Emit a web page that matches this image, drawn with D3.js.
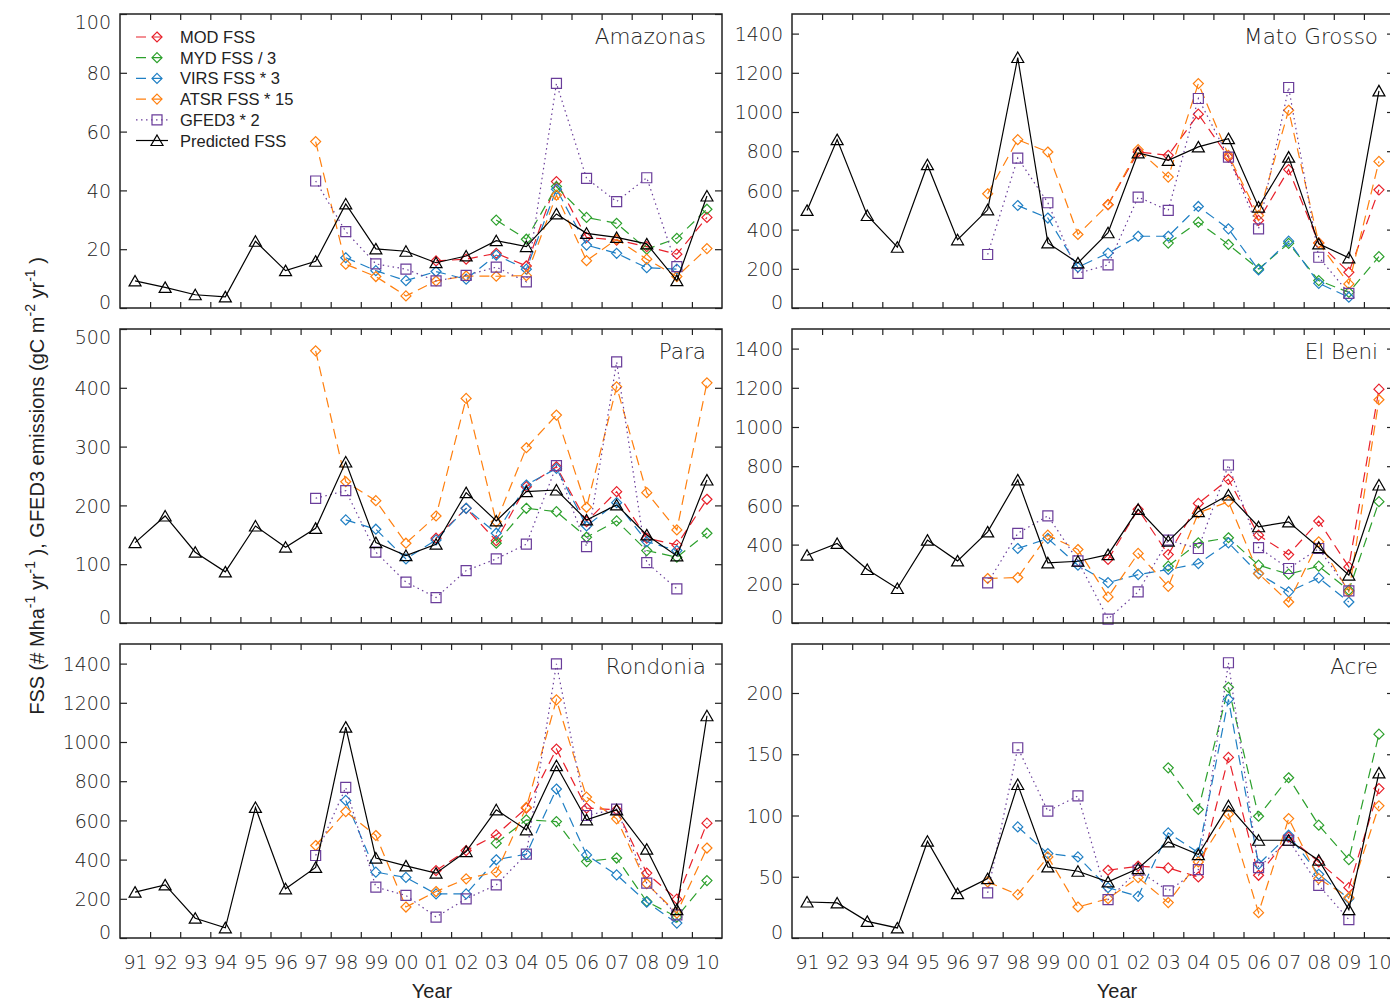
<!DOCTYPE html>
<html>
<head>
<meta charset="utf-8">
<script src="https://cdn.jsdelivr.net/npm/d3@7"></script>
<style>
  body { margin: 0; background: #fff; }
</style>
</head>
<body>
<div id="chart"></div>
<script>
// FSS vs GFED3 per state, 1991-2010
const years = [1991,1992,1993,1994,1995,1996,1997,1998,1999,2000,2001,2002,2003,2004,2005,2006,2007,2008,2009,2010];
const yearLabels = ['91','92','93','94','95','96','97','98','99','00','01','02','03','04','05','06','07','08','09','10'];
const _ = null;

const amazonasPred = [9.2,7.0,4.5,3.8,22.7,12.7,15.9,35.4,20.1,19.3,15.4,17.7,22.9,20.9,32.0,25.4,24.0,21.8,9.3,38.1];
const amazonasMOD  = [_,_,_,_,_,_,_,_,_,_,16.0,16.6,18.6,14.3,43.0,24.0,23.1,20.9,18.3,30.8];
const amazonasMYD  = [_,_,_,_,_,_,_,_,_,_,_,_,29.9,23.4,41.3,30.8,28.8,20.0,23.7,33.6];
const amazonasVIRS = [_,_,_,_,_,_,_,17.1,12.7,9.3,12.4,9.8,18.0,13.2,40.4,21.4,18.6,13.7,13.2,_];
const amazonasATSR = [_,_,_,_,_,_,56.6,14.9,10.7,4.1,9.2,10.9,10.8,11.0,38.4,16.1,23.4,16.6,10.7,20.2];
const amazonasGFED = [_,_,_,_,_,_,43.2,26.0,15.0,13.2,9.2,11.1,13.9,8.9,76.4,44.1,36.2,44.3,14.1,_];

const paraPred = [136.7,182,120.4,87,165,128.9,161,273.8,136.7,114.7,134,221.7,173.6,223.4,226.2,175.3,200.8,149.8,114.1,243.2];
const paraMOD  = [_,_,_,_,_,_,_,_,_,_,144.2,195,140,231.9,265.8,172.4,223.4,144.2,132.8,210.4];
const paraMYD  = [_,_,_,_,_,_,_,_,_,_,_,_,135.7,195.1,189.4,145.9,173.6,123.2,111.9,152.7];
const paraVIRS = [_,_,_,_,_,_,_,175.3,159.5,109,141.3,195.1,152.7,234.7,263,165,204.7,138.4,123.2,_];
const paraATSR = [_,_,_,_,_,_,462.8,240.3,208,135.7,182,382,172,298,353.6,196.8,401.7,221.7,158.3,408.5];
const paraGFED = [_,_,_,_,_,_,212.1,225,120.4,69.5,43.3,89.2,109,134,267.5,130,444.1,102.8,58.1,_];

const rondoniaPred = [234,271,101,52,666,251,360,1076,408,368,331,441,654,552,879,603,654,453,145,1134];
const rondoniaMOD  = [_,_,_,_,_,_,_,_,_,_,344,446,526,663,964,663,654,331,198,586];
const rondoniaMYD  = [_,_,_,_,_,_,_,_,_,_,_,_,484,603,594,390,408,186,107,293];
const rondoniaVIRS = [_,_,_,_,_,_,_,702,336,309,225,225,399,428,760,424,322,183,76,_];
const rondoniaATSR = [_,_,_,_,_,_,472,645,523,158,237,302,336,666,1215,719,608,277,127,459];
const rondoniaGFED = [_,_,_,_,_,_,421,768,260,217,107,200,271,428,1399,625,658,280,118,_];

const matoPred = [498,859,472,310,731,348,501,1278,332,230,384,791,753,822,864,515,770,327,256,1108];
const matoMOD  = [_,_,_,_,_,_,_,_,_,_,527,796,779,989,770,447,706,332,182,603];
const matoMYD  = [_,_,_,_,_,_,_,_,_,_,_,_,331,438,324,199,330,140,80,262];
const matoVIRS = [_,_,_,_,_,_,_,523,459,208,280,366,366,518,404,194,341,126,55,_];
const matoATSR = [_,_,_,_,_,_,583,859,796,375,527,808,668,1145,779,472,1009,332,123,748];
const matoGFED = [_,_,_,_,_,_,273,765,537,177,220,566,498,1069,770,404,1125,259,75,_];

const beniPred = [346,406,273,176,423,317,465,730,307,315,349,580,418,568,653,491,516,385,244,704];
const beniMOD  = [_,_,_,_,_,_,_,_,_,_,324,580,349,610,733,448,349,520,286,1193];
const beniMYD  = [_,_,_,_,_,_,_,_,_,_,_,_,290,409,435,295,249,290,167,619];
const beniVIRS = [_,_,_,_,_,_,_,380,431,295,206,247,273,303,409,252,159,230,107,_];
const beniATSR = [_,_,_,_,_,_,227,232,448,375,133,355,187,562,619,252,107,414,159,1139];
const beniGFED = [_,_,_,_,_,_,205,457,547,317,20,159,423,380,806,385,278,380,164,_];

const acrePred = [29.4,28.6,13.6,8.2,79,36.2,48.5,125.3,58,54.5,45.8,56.7,78.5,68.1,107.9,79.8,79.8,63.5,23.2,134.8];
const acreMOD  = [_,_,_,_,_,_,_,_,_,_,55.3,58.6,57.2,49.8,147.4,51.2,82.5,62.1,41.1,122];
const acreMYD  = [_,_,_,_,_,_,_,_,_,_,_,_,138.9,104.9,204.6,99.4,130.8,92.1,64,166.4];
const acreVIRS = [_,_,_,_,_,_,_,90.7,68.9,66.2,41.1,34,85.8,69.7,194.8,60.2,83.9,52,32.1,_];
const acreATSR = [_,_,_,_,_,_,45.8,35.4,66.2,25.3,32.1,49.3,28.9,62.1,101.1,20.7,97.5,48.5,33,107.9];
const acreGFED = [_,_,_,_,_,_,36.8,155.3,103.5,116,31.3,55.3,38.4,55.8,224.7,57.5,79.8,43,15,_];

const ticks100  = [0,20,40,60,80,100];
const ticks500  = [0,100,200,300,400,500];
const ticks1400 = [0,200,400,600,800,1000,1200,1400];
const ticks200  = [0,50,100,150,200];

const legendLabels = ['MOD FSS', 'MYD FSS / 3', 'VIRS FSS * 3', 'ATSR FSS * 15', 'GFED3 * 2', 'Predicted FSS'];

(function() {
  const width = 1390, height = 1001;
  const colX = [120, 792], panelW = 602;
  const rowY = [14, 329, 644], panelH = 294;
  const tickFont = "'DejaVu Sans', sans-serif";
  const labelFont = "'Liberation Sans', Arial, sans-serif";
  const ink = '#222';

  const seriesDefs = [
    {key: 'mod',  color: '#e8202a', dash: '10,6',    marker: 'diamond'},
    {key: 'myd',  color: '#2ca02c', dash: '10,6',    marker: 'diamond'},
    {key: 'virs', color: '#1f7fc4', dash: '10,6',    marker: 'diamond'},
    {key: 'atsr', color: '#ff7f0e', dash: '10,6',    marker: 'diamond'},
    {key: 'gfed', color: '#6a3d9a', dash: '1.5,3.5', marker: 'square'},
    {key: 'pred', color: '#000000', dash: null,      marker: 'triangle'}
  ];

  const markerPath = {
    diamond:  'M0,-5L5,0L0,5L-5,0Z',
    square:   'M-5,-5L5,-5L5,5L-5,5Z',
    triangle: 'M0,-5.5L6,5L-6,5Z'
  };

  const panels = [
    {name: 'Amazonas',    col: 0, row: 0, yMax: 100,  ticks: ticks100,
     data: {mod: amazonasMOD, myd: amazonasMYD, virs: amazonasVIRS, atsr: amazonasATSR, gfed: amazonasGFED, pred: amazonasPred}},
    {name: 'Mato Grosso', col: 1, row: 0, yMax: 1500, ticks: ticks1400,
     data: {mod: matoMOD, myd: matoMYD, virs: matoVIRS, atsr: matoATSR, gfed: matoGFED, pred: matoPred}},
    {name: 'Para',        col: 0, row: 1, yMax: 500,  ticks: ticks500,
     data: {mod: paraMOD, myd: paraMYD, virs: paraVIRS, atsr: paraATSR, gfed: paraGFED, pred: paraPred}},
    {name: 'El Beni',     col: 1, row: 1, yMax: 1500, ticks: ticks1400,
     data: {mod: beniMOD, myd: beniMYD, virs: beniVIRS, atsr: beniATSR, gfed: beniGFED, pred: beniPred}},
    {name: 'Rondonia',    col: 0, row: 2, yMax: 1500, ticks: ticks1400,
     data: {mod: rondoniaMOD, myd: rondoniaMYD, virs: rondoniaVIRS, atsr: rondoniaATSR, gfed: rondoniaGFED, pred: rondoniaPred}},
    {name: 'Acre',        col: 1, row: 2, yMax: 240,  ticks: ticks200,
     data: {mod: acreMOD, myd: acreMYD, virs: acreVIRS, atsr: acreATSR, gfed: acreGFED, pred: acrePred}}
  ];

  const svg = d3.select('#chart').append('svg')
      .attr('width', width)
      .attr('height', height)
      .style('display', 'block');

  // tick marks between years
  const yearBounds = years.slice(0, -1).map(y => y + 0.5);

  panels.forEach(p => {
    const x0 = colX[p.col], y0 = rowY[p.row];
    const x = d3.scaleLinear().domain([1990.5, 2010.5]).range([x0, x0 + panelW]);
    const y = d3.scaleLinear().domain([0, p.yMax]).range([y0 + panelH, y0]);
    const g = svg.append('g').attr('class', 'panel');

    // series
    seriesDefs.forEach(s => {
      const pts = years.map((yr, i) => ({yr, v: p.data[s.key][i]})).filter(d => d.v != null);
      g.append('path')
        .datum(pts)
        .attr('d', d3.line().x(d => x(d.yr)).y(d => y(d.v)))
        .attr('fill', 'none')
        .attr('stroke', s.color)
        .attr('stroke-width', 1.2)
        .attr('stroke-dasharray', s.dash);
      g.selectAll(null).data(pts).join('path')
        .attr('transform', d => `translate(${x(d.yr)},${y(d.v)})`)
        .attr('d', markerPath[s.marker])
        .attr('fill', 'none')
        .attr('stroke', s.color)
        .attr('stroke-width', 1.2);
    });

    // axes (ticks pointing inward)
    const bottom = g.append('g').attr('transform', `translate(0,${y0 + panelH})`)
      .call(d3.axisBottom(x).tickValues(yearBounds).tickSize(-6).tickFormat(''));
    const top = g.append('g').attr('transform', `translate(0,${y0})`)
      .call(d3.axisTop(x).tickValues(yearBounds).tickSize(-6).tickFormat(''));
    const left = g.append('g').attr('transform', `translate(${x0},0)`)
      .call(d3.axisLeft(y).tickValues(p.ticks).tickSize(-7).tickPadding(9).tickFormat(d3.format('d')));
    const right = g.append('g').attr('transform', `translate(${x0 + panelW},0)`)
      .call(d3.axisRight(y).tickValues(p.ticks).tickSize(-7).tickFormat(''));

    [bottom, top, left, right].forEach(a => {
      a.select('.domain').remove();
      a.selectAll('line').attr('stroke', ink).attr('stroke-width', 1.2);
    });

    // end labels are pulled inside the frame, as in the original
    left.selectAll('text')
      .attr('font-family', tickFont)
      .attr('font-size', 19)
      .attr('font-weight', 300)
      .attr('fill', ink)
      .attr('dy', '0.35em')
      .attr('y', d => {
        const py = y(d);
        return Math.min(Math.max(py, y0 + 7.5), y0 + panelH - 6.5) - py;
      });

    if (p.row === 2) {
      const lab = g.append('g').attr('transform', `translate(0,${y0 + panelH})`)
        .call(d3.axisBottom(x).tickValues(years).tickSize(0).tickPadding(17.5)
          .tickFormat((d, i) => yearLabels[i]));
      lab.select('.domain').remove();
      lab.selectAll('text')
        .attr('font-family', tickFont)
        .attr('font-size', 19)
        .attr('font-weight', 300)
        .attr('fill', ink);
    }

    // frame
    g.append('rect')
      .attr('x', x0).attr('y', y0)
      .attr('width', panelW).attr('height', panelH)
      .attr('fill', 'none')
      .attr('stroke', ink)
      .attr('stroke-width', 1.5);

    g.append('text')
      .attr('x', x0 + panelW - 16)
      .attr('y', y0 + 30)
      .attr('text-anchor', 'end')
      .attr('font-family', tickFont)
      .attr('font-size', 21.5)
      .attr('font-weight', 300)
      .attr('fill', ink)
      .text(p.name);

    // legend lives in the first panel
    if (p.name === 'Amazonas') {
      const leg = g.append('g').attr('transform', `translate(${x0},${y0})`);
      seriesDefs.forEach((s, i) => {
        const ly = 23 + i * 20.7;
        leg.append('line')
          .attr('x1', 16).attr('x2', 48).attr('y1', ly).attr('y2', ly)
          .attr('stroke', s.color).attr('stroke-width', 1.2)
          .attr('stroke-dasharray', s.dash);
        leg.append('path')
          .attr('transform', `translate(37,${ly})`)
          .attr('d', markerPath[s.marker])
          .attr('fill', 'none').attr('stroke', s.color).attr('stroke-width', 1.2);
        leg.append('text')
          .attr('x', 60).attr('y', ly + 6)
          .attr('font-family', labelFont)
          .attr('font-size', 16.5)
          .attr('fill', ink)
          .text(legendLabels[i]);
      });
    }
  });

  // x titles
  [432, 1117].forEach(cx => {
    svg.append('text')
      .attr('x', cx).attr('y', 998)
      .attr('text-anchor', 'middle')
      .attr('font-family', labelFont)
      .attr('font-size', 20)
      .attr('fill', ink)
      .text('Year');
  });

  // y title with superscripts
  const yt = svg.append('text')
    .attr('transform', 'translate(44,486) rotate(-90)')
    .attr('text-anchor', 'middle')
    .attr('font-family', labelFont)
    .attr('font-size', 20)
    .attr('fill', ink);
  const parts = [
    ['FSS (# Mha', false], ['-1', true], [' yr', false], ['-1', true],
    [' ), GFED3 emissions (gC m', false], ['-2', true], [' yr', false], ['-1', true], [' )', false]
  ];
  parts.forEach(([t, sup]) => {
    const ts = yt.append('tspan').text(t);
    if (sup) ts.attr('font-size', 14).attr('baseline-shift', '65%');
  });
})();
</script>
</body>
</html>
